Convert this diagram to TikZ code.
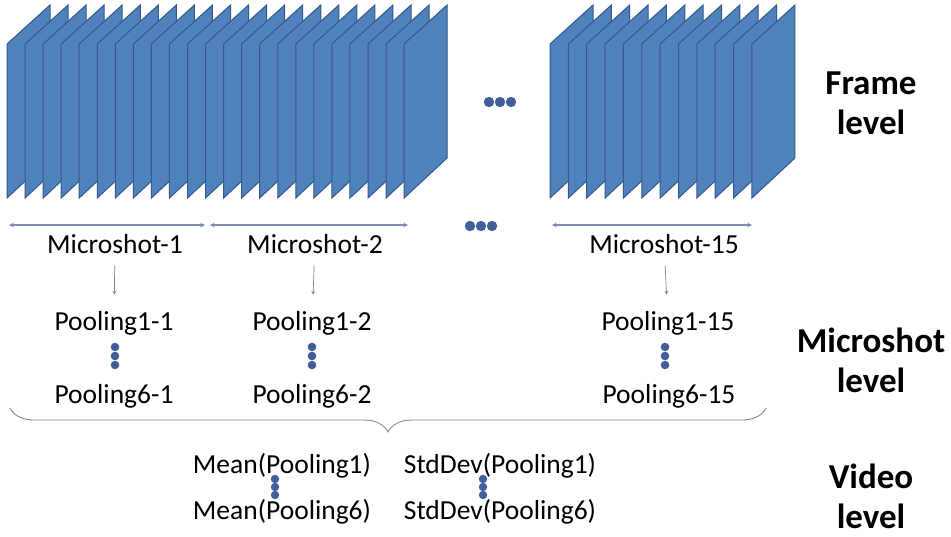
\documentclass[tikz,border=0pt]{standalone}
\usepackage{fontspec}
\setmainfont{Carlito}
\usetikzlibrary{arrows,decorations.pathreplacing}

\definecolor{sheetfill}{RGB}{79,129,189}
\definecolor{sheetedge}{RGB}{52,88,136}
\definecolor{dotblue}{RGB}{66,94,152}
\definecolor{spanline}{RGB}{125,138,178}

\begin{document}
\begin{tikzpicture}[x=1pt,y=-1pt,
  sheet/.style={fill=sheetfill,draw=sheetedge,line width=1pt},
  lbl/.style={font=\fontsize{27.5}{31}\selectfont,inner sep=0pt,anchor=base},
  lvl/.style={font=\fontsize{35}{40}\selectfont\bfseries,align=center,inner sep=0pt},
  shotspan/.style={<->,>=stealth,draw=spanline,line width=1.1pt},
  poolarrow/.style={->,>=stealth,draw=gray,line width=0.7pt,shorten <=12pt,shorten >=16pt},
  dotmark/.style={fill=dotblue}]
\useasboundingbox (0,0) rectangle (951,536);

\foreach \i in {0,...,22}
  \draw[sheet] ({7+18.05*\i},44) -- ++(43,-39) -- ++(0,153) -- ++(-43,40) -- cycle;
\foreach \i in {0,...,11}
  \draw[sheet] ({550+18.36*\i},44) -- ++(43,-39) -- ++(0,153) -- ++(-43,40) -- cycle;

\foreach \x in {489,500,511}
  \fill[dotmark] (\x,102) circle (5.2);
\foreach \x in {470,481,492}
  \fill[dotmark] (\x,226) circle (5.2);

\coordinate (s1a) at (9,225);
\coordinate (s1b) at (205,225);
\coordinate (s2a) at (210,225);
\coordinate (s2b) at (408,225);
\coordinate (s15a) at (552,225);
\coordinate (s15b) at (752,225);

\draw[shotspan] (s1a) -- (s1b);
\draw[shotspan] (s2a) -- (s2b);
\draw[shotspan] (s15a) -- (s15b);

\node[lbl] (ms1) at (115,253) {Microshot-1};
\node[lbl] (ms2) at (315,253) {Microshot-2};
\node[lbl] (ms15) at (664,253) {Microshot-15};

\node[lbl] (p11) at (114,330) {Pooling1-1};
\node[lbl] (p61) at (114,403) {Pooling6-1};
\node[lbl] (p12) at (312,330) {Pooling1-2};
\node[lbl] (p62) at (312,403) {Pooling6-2};
\node[lbl] (p115) at (668,330) {Pooling1-15};
\node[lbl] (p615) at (669,403) {Pooling6-15};

\draw[poolarrow] (ms1) -- (p11);
\draw[poolarrow] (ms2) -- (p12);
\draw[poolarrow] (ms15) -- (p115);

\foreach \x in {115,312,665}
  \foreach \y in {347,356,365}
    \fill[dotmark] (\x,\y) circle (4.3);

\coordinate (bl) at (10,408);
\coordinate (br) at (766,408);
\draw[gray,line width=0.8pt,decorate,decoration={brace,amplitude=24pt,mirror}] (bl) -- (br);

\node[lbl] (mean1) at (282,473) {Mean(Pooling1)};
\node[lbl] (mean6) at (282,519) {Mean(Pooling6)};
\node[lbl] (sd1) at (500,473) {StdDev(Pooling1)};
\node[lbl] (sd6) at (500,519) {StdDev(Pooling6)};

\foreach \x in {275,483}
  \foreach \y in {479,487,495}
    \fill[dotmark] (\x,\y) circle (4.2);

\node[lvl] (flvl) at (871,103) {Frame\\level};
\node[lvl] (mlvl) at (871,360) {Microshot\\level};
\node[lvl] (vlvl) at (871,496) {Video\\level};

\end{tikzpicture}
\end{document}
